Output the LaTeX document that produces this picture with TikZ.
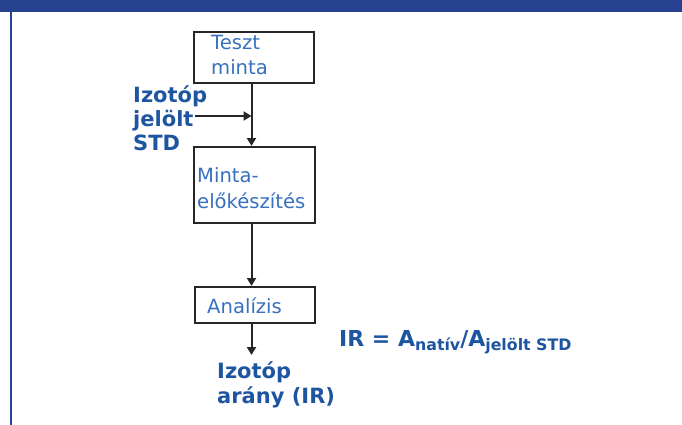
\documentclass[tikz,border=0pt]{standalone}
\usepackage{fontspec}
\setmainfont{DejaVu Sans}
\usetikzlibrary{arrows.meta}
\definecolor{barblue}{HTML}{25418F}
\definecolor{boxtext}{HTML}{3670BF}
\definecolor{labelblue}{HTML}{1E55A0}
\newcommand{\lowsub}[1]{\raisebox{-4pt}{\fontsize{15.8}{16}\selectfont #1}}
\tikzset{
  x=1pt, y=-1pt,
  stepbox/.style={draw=black!85, line width=2pt, inner sep=0pt},
  boxlabel/.style={anchor=base west, inner sep=0pt, text=boxtext,
    font=\fontsize{19.6}{25.5}\selectfont, align=left},
  sidelabel/.style={anchor=base west, inner sep=0pt, text=labelblue,
    font=\fontsize{21}{24}\selectfont\bfseries, align=left},
  flow/.style={draw=black!85, line width=2pt, -{Triangle[length=8pt,width=9pt]}},
}
\begin{document}
\begin{tikzpicture}
\useasboundingbox (0,0) rectangle (682,425);
% title bar and left rule
\fill[barblue] (0,0) rectangle (682,12);
\draw[barblue, line width=2pt] (11,12) -- (11,425);

% process boxes
\node[stepbox, minimum width=120pt, minimum height=51pt] (b1) at (254,57.5) {};
\node[stepbox, minimum width=121pt, minimum height=76pt] (b2) at (254.5,185) {};
\node[stepbox, minimum width=120pt, minimum height=36pt] (b3) at (255,305) {};

% box captions (anchored on the baseline of the last line)
\node[boxlabel] (t1) at (211,75) {Teszt\\minta};
\node[boxlabel] (t2) at (197,208) {Minta-\\előkészítés};
\node[boxlabel] (t3) at (207,313) {Analízis};

% side inputs and outputs
\node[sidelabel] (std) at (133,150) {Izotóp\\jelölt\\STD};
\node[sidelabel, font=\fontsize{21}{25}\selectfont\bfseries] (ir) at (217,403) {Izotóp\\arány (IR)};
\node[anchor=base west, inner sep=0pt, text=labelblue,
      font=\fontsize{22}{24}\selectfont\bfseries] (eq) at (339,346)
  {IR = A\lowsub{natív}/A\lowsub{jelölt STD}};

% connectors
\coordinate (join) at (251.5,116);
\coordinate (stdend) at (195,116);
\coordinate (out) at (251.5,355);
\draw[flow] (b1.south -| join) -- (b2.north -| join);
\draw[flow] (stdend) -- (join);
\draw[flow] (b2.south -| join) -- (b3.north -| join);
\draw[flow] (b3.south -| join) -- (out);
\end{tikzpicture}
\end{document}
